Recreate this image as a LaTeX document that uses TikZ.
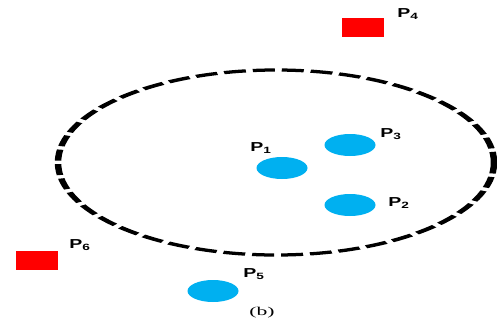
\documentclass[tikz,border=0pt]{standalone}
\usepackage{fontspec}
\setmainfont{Liberation Serif}
\setsansfont{Liberation Sans}
\usepackage{graphicx}
\usepackage{xcolor}
\definecolor{blobblue}{RGB}{0,176,240}
\definecolor{boxred}{RGB}{255,0,0}
\usetikzlibrary{positioning, shapes.geometric}
\newcommand{\plab}[1]{\scalebox{1.5}[1]{P\textsubscript{#1}}}

\begin{document}
\begin{tikzpicture}[
  x=1pt, y=-1pt,
  blob/.style={
    ellipse, fill=blobblue, inner sep=0pt,
    minimum width=51pt, minimum height=22pt,
  },
  redbox/.style={
    rectangle, fill=boxred, inner sep=0pt,
    minimum width=42pt, minimum height=19pt,
  },
  plabel/.style={
    inner sep=0pt,
    font=\sffamily\bfseries\fontsize{13}{15}\selectfont,
  },
  boundary/.style={
    line width=6.5pt, dash pattern=on 22pt off 7pt,
  }
]
\useasboundingbox (0,0) rectangle (497,322);

% range boundary (drawn flattened)
\begin{scope}[transform canvas={yscale=0.5}]
  \draw[boundary] (276,325) ellipse [x radius=218, y radius=185];
\end{scope}

% points inside and outside
\node[blob]   (p1) at (282,168) {};
\node[blob]   (p2) at (350,205) {};
\node[blob]   (p3) at (350,145) {};
\node[redbox] (p4) at (363,27)  {};
\node[blob]   (p5) at (213,291) {};
\node[redbox] (p6) at (37,260)  {};

\node[plabel] (lp1) at (261,148) {\plab{1}};
\node[plabel] (lp2) at (399,203) {\plab{2}};
\node[plabel] (lp3) at (391,134) {\plab{3}};
\node[plabel] (lp4) at (408,14)  {\plab{4}};
\node[plabel] (lp5) at (254,274) {\plab{5}};
\node[plabel] (lp6) at (80,245)  {\plab{6}};

\node[font=\fontsize{12}{14}\selectfont, inner sep=0pt] (cap) at (262,313)
  {\scalebox{1.8}[1]{(b)}};
\end{tikzpicture}
\end{document}
